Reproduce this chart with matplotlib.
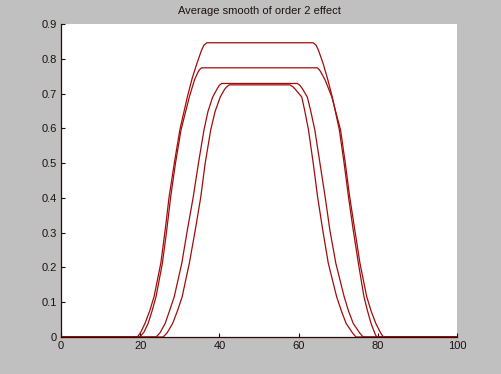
import matplotlib
matplotlib.use("Agg")
import matplotlib.pyplot as plt

title = "Average smooth of order 2 effect"

c1_x = [0, 19.3, 20.2, 21.2, 22.4, 23.5, 25.2, 26.3, 27.3, 28.6, 30.0, 31.9, 33.1, 34.3, 35.5, 36.1, 36.8,
        63.7, 64.4, 65.0, 66.2, 67.3, 68.5, 70.3, 71.5, 72.6, 73.8, 75.1, 76.5, 77.4, 78.3, 79.2, 79.7, 100]
c1_y = [0, 0, 0.015, 0.039, 0.075, 0.116, 0.212, 0.307, 0.403, 0.499, 0.595, 0.690, 0.743, 0.786, 0.825, 0.839, 0.846,
        0.846, 0.839, 0.825, 0.786, 0.743, 0.690, 0.595, 0.499, 0.403, 0.307, 0.212, 0.116, 0.075, 0.039, 0.012, 0, 0]

c2_x = [0, 19.9, 21.0, 22.0, 23.0, 24.0, 25.6, 26.7, 27.7, 28.9, 30.3, 32.4, 33.7, 34.6, 35.0, 35.5,
        64.7, 65.2, 65.6, 66.7, 68.4, 70.6, 71.8, 72.9, 74.2, 75.5, 77.2, 78.3, 79.5, 80.7, 81.4, 100]
c2_y = [0, 0, 0.015, 0.039, 0.075, 0.116, 0.212, 0.307, 0.403, 0.499, 0.595, 0.690, 0.739, 0.762, 0.769, 0.774,
        0.774, 0.769, 0.762, 0.739, 0.690, 0.595, 0.499, 0.403, 0.307, 0.212, 0.116, 0.075, 0.039, 0.012, 0, 0]

c3_x = [0, 24.0, 25.0, 26.3, 27.4, 28.6, 30.5, 31.9, 33.4, 34.7, 36.1, 37.1, 38.3, 39.5, 40.0, 40.6,
        59.7, 60.3, 60.9, 62.2, 63.1, 64.1, 65.4, 66.7, 67.9, 69.4, 71.5, 72.6, 73.8, 75.4, 76.3, 100]
c3_y = [0, 0, 0.012, 0.039, 0.075, 0.116, 0.212, 0.307, 0.403, 0.499, 0.595, 0.648, 0.690, 0.715, 0.724, 0.729,
        0.729, 0.724, 0.715, 0.690, 0.648, 0.595, 0.499, 0.403, 0.307, 0.212, 0.116, 0.075, 0.039, 0.012, 0, 0]

c4_x = [0, 25.8, 26.8, 28.2, 29.4, 30.6, 32.4, 33.9, 35.3, 36.4, 37.8, 38.9, 40.2, 41.3, 41.9, 42.5,
        57.8, 58.5, 59.2, 60.8, 61.6, 62.5, 63.7, 64.8, 66.1, 67.5, 69.6, 70.8, 72.0, 73.6, 74.5, 100]
c4_y = [0, 0, 0.012, 0.039, 0.075, 0.116, 0.212, 0.307, 0.403, 0.499, 0.595, 0.648, 0.690, 0.712, 0.720, 0.725,
        0.725, 0.720, 0.712, 0.690, 0.648, 0.595, 0.499, 0.403, 0.307, 0.212, 0.116, 0.075, 0.039, 0.012, 0, 0]

x_ticks = [0, 20, 40, 60, 80, 100]
y_ticks = [0, 0.1, 0.2, 0.3, 0.4, 0.5, 0.6, 0.7, 0.8, 0.9]
y_labels = ["0", "0.1", "0.2", "0.3", "0.4", "0.5", "0.6", "0.7", "0.8", "0.9"]

bg = "#c0c0c0"
axcol = "#300808"
linecol = "#a00c0c"

plt.rcParams["font.family"] = ["Liberation Sans", "DejaVu Sans"]

fig = plt.figure(figsize=(5.02, 3.74), dpi=100, facecolor=bg)
ax = fig.add_axes([61 / 502, 37 / 374, 396 / 502, 313 / 374])
ax.set_facecolor("white")

for xs, ys in [(c1_x, c1_y), (c2_x, c2_y), (c3_x, c3_y), (c4_x, c4_y)]:
    ax.plot(xs, ys, color=linecol, lw=0.9, solid_joinstyle="round")

ax.set_xlim(0, 100)
ax.set_ylim(0, 0.9)
ax.set_xticks(x_ticks)
ax.set_xticklabels([str(v) for v in x_ticks])
ax.set_yticks(y_ticks)
ax.set_yticklabels(y_labels)

for s in ["top", "right"]:
    ax.spines[s].set_visible(False)
for s in ["left", "bottom"]:
    ax.spines[s].set_color(axcol)
    ax.spines[s].set_linewidth(0.9)

ax.tick_params(direction="in", length=3, width=0.8, color=axcol,
               labelcolor="#201010", labelsize=8, pad=3)
ax.set_title(title, fontsize=8, color="#201010", pad=7.5)

fig.savefig("out.png", dpi=100, facecolor=bg)
